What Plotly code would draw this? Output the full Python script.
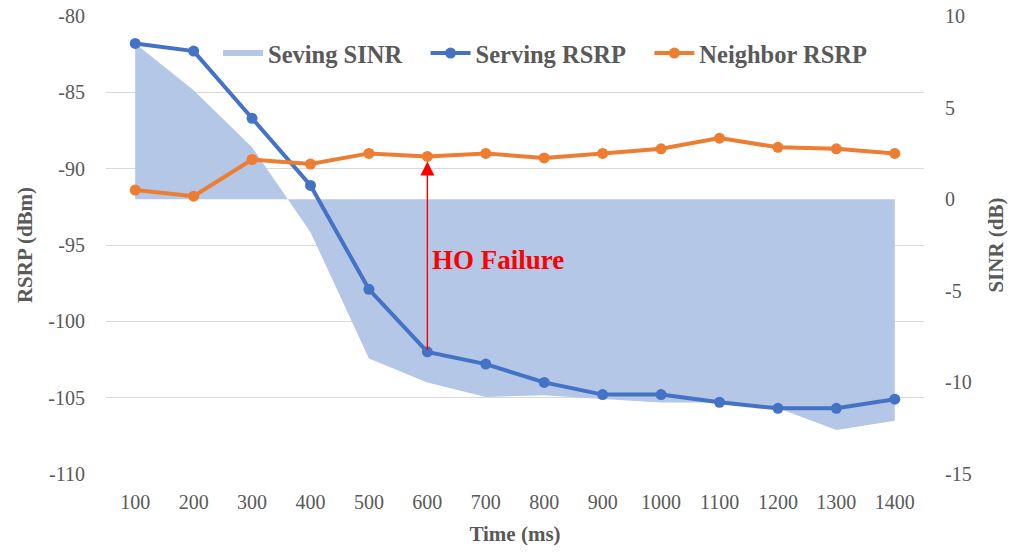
import plotly.graph_objects as go

time_ms = [100, 200, 300, 400, 500, 600, 700, 800, 900, 1000, 1100, 1200, 1300, 1400]
serving_sinr = [8.5, 5.95, 2.84, -1.8, -8.7, -10.0, -10.8, -10.7, -10.9, -11.1, -11.1, -11.4, -12.6, -12.1]
serving_rsrp = [-81.8, -82.3, -86.7, -91.1, -97.9, -102.0, -102.8, -104.0, -104.8, -104.8, -105.3, -105.7, -105.7, -105.1]
neighbor_rsrp = [-91.4, -91.8, -89.4, -89.7, -89.0, -89.2, -89.0, -89.3, -89.0, -88.7, -88.0, -88.6, -88.7, -89.0]
rsrp_ticks = [-110, -105, -100, -95, -90, -85, -80]
sinr_ticks = [-15, -10, -5, 0, 5, 10]
failure_time = 600

GRAY = "#595959"
FONT = "Liberation Serif"

fig = go.Figure()
# SINR area on the base axis (drawn underneath), RSRP lines on the overlaying axis
fig.add_trace(go.Scatter(
    x=time_ms, y=serving_sinr, yaxis="y", name="<b>Seving SINR</b>&nbsp;&nbsp;&nbsp;",
    mode="none", fill="tozeroy", fillcolor="#B4C7E7",
))
fig.add_trace(go.Scatter(
    x=time_ms, y=serving_rsrp, yaxis="y2", name="<b>Serving RSRP</b>&nbsp;&nbsp;&nbsp;", mode="lines+markers",
    line=dict(color="#4472C4", width=4), marker=dict(size=11, color="#4472C4"),
))
fig.add_trace(go.Scatter(
    x=time_ms, y=neighbor_rsrp, yaxis="y2", name="<b>Neighbor RSRP</b>", mode="lines+markers",
    line=dict(color="#ED7D31", width=4), marker=dict(size=11, color="#ED7D31"),
))

i = time_ms.index(failure_time)
fig.add_annotation(
    x=failure_time, y=neighbor_rsrp[i], ax=failure_time, ay=serving_rsrp[i],
    xref="x", yref="y2", axref="x", ayref="y2", text="", showarrow=True,
    arrowhead=2, arrowsize=2, arrowwidth=1.4, arrowcolor="#FF0000", standoff=5,
)
fig.add_annotation(
    x=failure_time, y=-96.0, xref="x", yref="y2", text="<b>HO Failure</b>",
    showarrow=False, xanchor="left", xshift=3,
    font=dict(family=FONT, size=27, color="#FF0000"),
)

fig.update_layout(
    width=1020, height=552,
    margin=dict(l=106, r=96, t=16, b=78),
    plot_bgcolor="white", paper_bgcolor="white",
    font=dict(family=FONT, size=20, color=GRAY),
    showlegend=True,
    legend=dict(
        orientation="h", x=0.137, xanchor="left", y=0.919, yanchor="middle",
        font=dict(family=FONT, size=24.5, color=GRAY), bgcolor="rgba(0,0,0,0)",
        itemwidth=40, traceorder="normal",
    ),
    xaxis=dict(
        range=[50, 1450], tickmode="array", tickvals=time_ms,
        ticktext=[str(t) for t in time_ms], showgrid=False, zeroline=False,
        showline=False, ticks="", automargin=False, ticklabelstandoff=14,
        title=dict(text="<b>Time (ms)</b>", font=dict(family=FONT, size=21, color=GRAY), standoff=14),
    ),
    yaxis=dict(
        range=[-15, 10], tickmode="array", tickvals=sinr_ticks,
        ticktext=[str(t) for t in sinr_ticks], side="right", showgrid=False,
        zeroline=False, showline=False, ticks="", automargin=False, ticklabelstandoff=20,
        title=dict(text="<b>SINR (dB)</b>", font=dict(family=FONT, size=21, color=GRAY), standoff=17),
    ),
    yaxis2=dict(
        range=[-110, -80], tickmode="array", tickvals=rsrp_ticks,
        ticktext=[str(t) for t in rsrp_ticks], overlaying="y", side="left",
        showgrid=True, gridcolor="#D9D9D9", gridwidth=1.3,
        zeroline=False, showline=False, ticks="", automargin=False, ticklabelstandoff=20,
        title=dict(text="<b>RSRP (dBm)</b>", font=dict(family=FONT, size=21, color=GRAY), standoff=9),
    ),
)

# remove the default 8px page margin so the figure fills the window exactly
fig.write_html(
    "out.html",
    config={"displayModeBar": False},
    post_script="document.body.style.margin='0';",
)
